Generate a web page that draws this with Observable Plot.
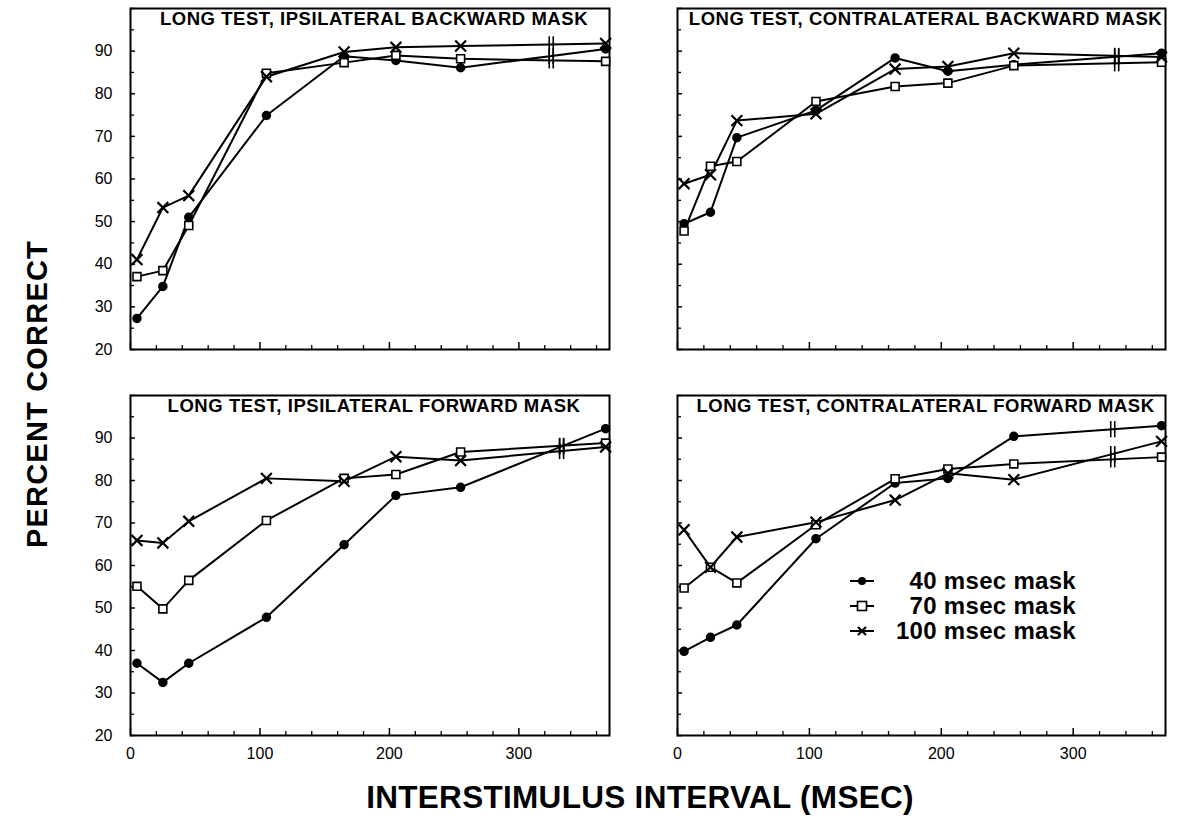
<!DOCTYPE html>
<html><head><meta charset="utf-8">
<script src="https://cdn.jsdelivr.net/npm/d3@7"></script>
<script src="https://cdn.jsdelivr.net/npm/@observablehq/plot@0.6"></script>
<style>
body{margin:0;background:#fff;}
#chart{position:relative;width:1192px;height:833px;font-family:"Liberation Sans",Arial,Helvetica,sans-serif;color:#000;overflow:hidden;}
.panel{position:absolute;}
.panel svg{overflow:visible;background:transparent;}
.panel g[aria-label="text"] text{letter-spacing:0.55px;}
#ylab{position:absolute;left:37px;top:394px;transform:translate(-50%,-50%) rotate(-90deg);font-weight:bold;font-size:29px;letter-spacing:1.2px;white-space:nowrap;}
#xlab{position:absolute;left:640px;top:797px;transform:translate(-50%,-50%);font-weight:bold;font-size:31.5px;letter-spacing:0.3px;white-space:nowrap;}
.lrow{position:absolute;left:848px;width:228px;height:28px;font-weight:bold;font-size:24px;letter-spacing:0.3px;}
.lrow svg{position:absolute;left:0;top:7px;}
.lrow span{position:absolute;right:0;top:0;line-height:28px;}
</style></head>
<body><div id="chart"></div>
<script>
// ---- data ----
const intervals = [5, 25, 45, 105, 165, 205, 255, 367];
const masks = ["40 msec mask", "70 msec mask", "100 msec mask"];
const symbols = ["circle", "square", "times"];
const titles = [
  "LONG TEST, IPSILATERAL BACKWARD MASK",
  "LONG TEST, CONTRALATERAL BACKWARD MASK",
  "LONG TEST, IPSILATERAL FORWARD MASK",
  "LONG TEST, CONTRALATERAL FORWARD MASK"
];
const ipsiBackward40  = [27.3, 34.8, 51.0, 74.9, 88.8, 87.8, 86.1, 90.5];
const ipsiBackward70  = [37.1, 38.5, 49.1, 84.8, 87.3, 89.0, 88.2, 87.6];
const ipsiBackward100 = [41.1, 53.3, 56.1, 84.0, 89.8, 90.9, 91.2, 91.8];
const contraBackward40  = [49.5, 52.2, 69.7, 76.1, 88.4, 85.3, 86.8, 89.5];
const contraBackward70  = [47.8, 63.0, 64.1, 78.2, 81.7, 82.5, 86.6, 87.4];
const contraBackward100 = [58.9, 61.0, 73.7, 75.3, 85.8, 86.4, 89.5, 88.6];
const ipsiForward40  = [37.0, 32.5, 37.0, 47.8, 64.9, 76.5, 78.4, 92.2];
const ipsiForward70  = [55.1, 49.8, 56.5, 70.6, 80.5, 81.4, 86.7, 88.8];
const ipsiForward100 = [65.9, 65.3, 70.4, 80.5, 79.8, 85.6, 84.7, 87.9];
const contraForward40  = [39.8, 43.1, 46.0, 66.3, 79.4, 80.5, 90.4, 92.9];
const contraForward70  = [54.7, 59.6, 55.9, 69.6, 80.4, 82.7, 83.9, 85.5];
const contraForward100 = [68.4, 59.6, 66.7, 70.2, 75.4, 81.7, 80.2, 89.2];
const breakPoints = [325, 333, 333, 330];
const yMajorTicks = [20, 30, 40, 50, 60, 70, 80, 90, 100];
const yMinorTicks = [25, 35, 45, 55, 65, 75, 85, 95];
const xMajorTicks = [0, 100, 200, 300];
const xMinorTicks = [20, 40, 60, 80, 120, 140, 160, 180, 220, 240, 260, 280, 320, 340, 360];

const panelSeries = [
  [ipsiBackward40, ipsiBackward70, ipsiBackward100],
  [contraBackward40, contraBackward70, contraBackward100],
  [ipsiForward40, ipsiForward70, ipsiForward100],
  [contraForward40, contraForward70, contraForward100]
];

// layout of each panel svg: [left, top, width, height, marginLeft, marginRight, marginTop, marginBottom]
const layouts = [
  [0, 0, 620, 360, 130, 11, 8, 11],
  [620, 0, 572, 360, 57, 27, 8, 11],
  [0, 360, 620, 420, 130, 11, 35, 45],
  [620, 360, 572, 420, 57, 27, 35, 45]
];

const chart = document.getElementById("chart");

panelSeries.forEach((series, p) => {
  const rows = [];
  series.forEach((vals, s) => vals.forEach((v, i) => rows.push({x: intervals[i], y: v, mask: masks[s], sym: symbols[s]})));
  const bx = breakPoints[p];
  const n = intervals.length;
  const breaks = series.map((vals, s) => {
    const x0 = intervals[n - 2], x1 = intervals[n - 1];
    const y = vals[n - 2] + (vals[n - 1] - vals[n - 2]) * (bx - x0) / (x1 - x0);
    return {x: bx, y1: y - 1.9, y2: y + 1.9};
  });
  const showYLabels = p % 2 === 0;
  const showXLabels = p >= 2;
  const [left, top, width, height, ml, mr, mt, mb] = layouts[p];
  const svg = Plot.plot({
    width, height, marginLeft: ml, marginRight: mr, marginTop: mt, marginBottom: mb,
    style: {fontFamily: '"Liberation Sans", Arial, sans-serif', fontSize: "16px", color: "#000", background: "transparent"},
    x: {domain: [0, 370], axis: null},
    y: {domain: [20, 100], axis: null},
    marks: [
      Plot.axisY({ticks: yMajorTicks, tickSize: -5, tickPadding: 23, strokeWidth: 1.5, label: null,
        tickFormat: d => (showYLabels && d !== 100) ? String(d) : "", fontSize: 16}),
      Plot.axisY({ticks: yMinorTicks, tickSize: -4, label: null, strokeWidth: 1.3, tickFormat: () => ""}),
      Plot.axisX({ticks: xMajorTicks, tickSize: -7, tickPadding: 19, strokeWidth: 1.5, label: null,
        tickFormat: d => showXLabels ? String(d) : "", fontSize: 16}),
      Plot.axisX({ticks: xMinorTicks, tickSize: -4, label: null, strokeWidth: 1.3, tickFormat: () => ""}),
      Plot.frame({stroke: "#000", strokeWidth: 2}),
      Plot.line(rows, {x: "x", y: "y", z: "mask", stroke: "#000", strokeWidth: 2}),
      Plot.link(breaks, {x1: "x", x2: "x", y1: "y1", y2: "y2", dx: -2, stroke: "#000", strokeWidth: 1.6}),
      Plot.link(breaks, {x1: "x", x2: "x", y1: "y1", y2: "y2", dx: 2, stroke: "#000", strokeWidth: 1.6}),
      Plot.dot(rows.filter(d => d.sym === "circle"), {x: "x", y: "y", symbol: "circle", r: 4, fill: "#000", stroke: "#000"}),
      Plot.dot(rows.filter(d => d.sym === "square"), {x: "x", y: "y", symbol: "square", r: 4.5, fill: "#fff", stroke: "#000", strokeWidth: 1.6}),
      Plot.dot(rows.filter(d => d.sym === "times"), {x: "x", y: "y", symbol: "times", r: 5, stroke: "#000", strokeWidth: 2.2}),
      Plot.text([titles[p]], {frameAnchor: "top", lineAnchor: "middle", dy: 11, dx: 4, text: d => d,
        fontWeight: "bold", fontSize: 18.5, fill: "#000"})
    ]
  });
  const div = document.createElement("div");
  div.className = "panel";
  div.style.left = left + "px";
  div.style.top = top + "px";
  div.appendChild(svg);
  chart.appendChild(div);
});

// axis titles
const ylab = document.createElement("div");
ylab.id = "ylab"; ylab.textContent = "PERCENT CORRECT";
chart.appendChild(ylab);
const xlab = document.createElement("div");
xlab.id = "xlab"; xlab.textContent = "INTERSTIMULUS INTERVAL (MSEC)";
chart.appendChild(xlab);

// legend (bottom-right panel)
const legendTops = [567, 592, 617];
masks.forEach((m, i) => {
  const row = document.createElement("div");
  row.className = "lrow";
  row.style.top = legendTops[i] + "px";
  const sym = symbols[i];
  let marker;
  if (sym === "circle") marker = '<circle cx="14" cy="7" r="4" fill="#000"/>';
  else if (sym === "square") marker = '<rect x="9.5" y="2.5" width="9" height="9" fill="#fff" stroke="#000" stroke-width="1.6"/>';
  else marker = '<path d="M10,3L18,11M18,3L10,11" stroke="#000" stroke-width="2.2"/>';
  row.innerHTML = '<svg width="28" height="14"><line x1="2" y1="7" x2="26" y2="7" stroke="#000" stroke-width="2"/>' + marker + '</svg><span>' + m + '</span>';
  chart.appendChild(row);
});
</script>
</body></html>
